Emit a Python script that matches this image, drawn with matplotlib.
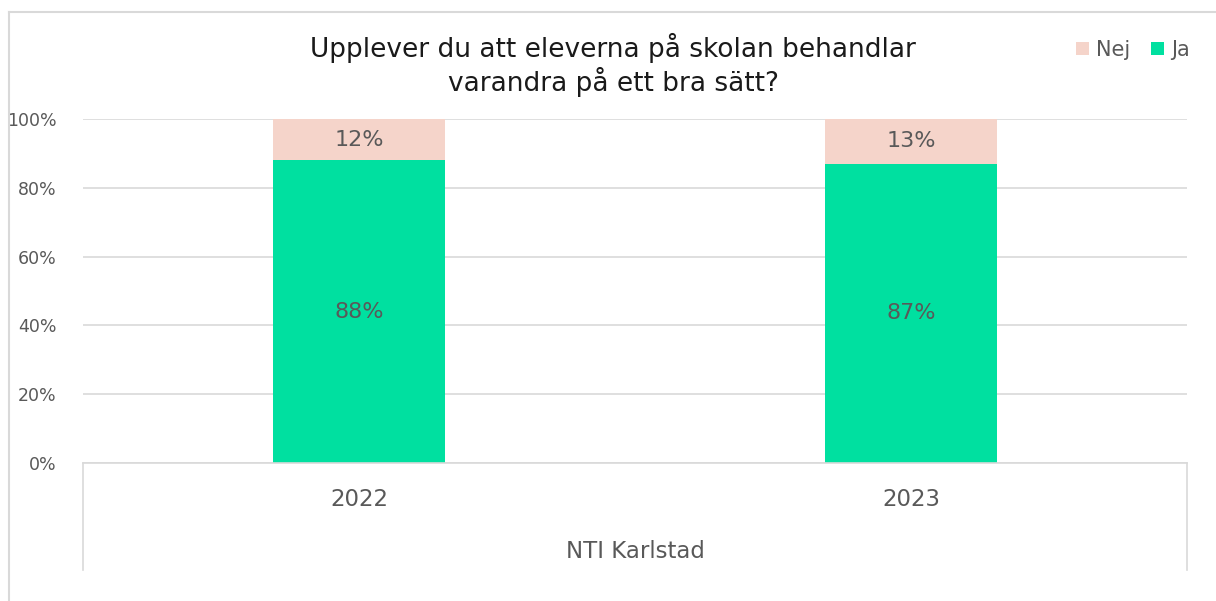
import matplotlib.pyplot as plt
import numpy as np

years = ["2022", "2023"]
group_label = "NTI Karlstad"
ja = [88, 87]
nej = [12, 13]
title = "Upplever du att eleverna på skolan behandlar\nvarandra på ett bra sätt?"

JA_COLOR = "#00E0A0"
NEJ_COLOR = "#F5D4CA"
TEXT = "#595959"
GRID = "#D9D9D9"

plt.rcParams['font.family'] = ['DejaVu Sans']

W, H = 1216, 601
fig = plt.figure(figsize=(W / 100, H / 100), dpi=100)
# axes placed in pixel terms: x 83..1187, y 119..463
ax = fig.add_axes([83 / W, 1 - 463 / H, (1187 - 83) / W, (463 - 119) / H])

x = np.arange(len(years))
ax.bar(x, ja, width=0.31, color=JA_COLOR, label="Ja", zorder=2)
ax.bar(x, nej, width=0.31, bottom=ja, color=NEJ_COLOR, label="Nej", zorder=2)

for i in range(len(years)):
    ax.text(x[i], ja[i] / 2, f"{ja[i]}%", ha="center", va="center", fontsize=16, color=TEXT)
    ax.text(x[i], ja[i] + nej[i] / 2, f"{nej[i]}%", ha="center", va="center", fontsize=16, color=TEXT)

ax.set_xlim(-0.5, 1.5)
ax.set_ylim(0, 100)
ax.set_yticks(range(0, 101, 20))
ax.set_yticklabels([f"{v}%" for v in range(0, 101, 20)], fontsize=12.5, color=TEXT)
ax.yaxis.grid(True, color=GRID, linewidth=1.2, zorder=0)
ax.tick_params(axis="y", length=0, pad=19)
ax.set_xticks([])
for side in ["top", "right", "left"]:
    ax.spines[side].set_visible(False)
ax.spines["bottom"].set_color(GRID)
ax.spines["bottom"].set_linewidth(1.2)

# multi-level category axis
for i, yr in enumerate(years):
    fig.text((83 + 276 + 552 * i) / W, 1 - 499 / H, yr, ha="center", va="center",
             fontsize=16.5, color=TEXT)
fig.text(635 / W, 1 - 551 / H, group_label, ha="center", va="center", fontsize=16.5, color=TEXT)
for px in [83, 1187]:
    fig.add_artist(plt.Line2D([px / W, px / W], [1 - 463 / H, 1 - 570 / H],
                              color=GRID, linewidth=1.2))

# outer chart frame
fig.add_artist(plt.Line2D([9 / W, 9 / W], [1 - 12 / H, 0], color=GRID, linewidth=1.5))
fig.add_artist(plt.Line2D([9 / W, 1], [1 - 12 / H, 1 - 12 / H], color=GRID, linewidth=1.5))

fig.text(613 / W, 1 - 65 / H, title, ha="center", va="center", fontsize=19,
         color="#1a1a1a", linespacing=1.2)

handles, labels = ax.get_legend_handles_labels()
fig.legend(handles[::-1], labels[::-1], loc="center", bbox_to_anchor=(1133 / W, 1 - 50 / H),
           ncol=2, frameon=False, fontsize=15, labelcolor=TEXT, handlelength=0.6,
           handleheight=0.6, handletextpad=0.35, columnspacing=1.0)

fig.savefig("out.png", dpi=100)
